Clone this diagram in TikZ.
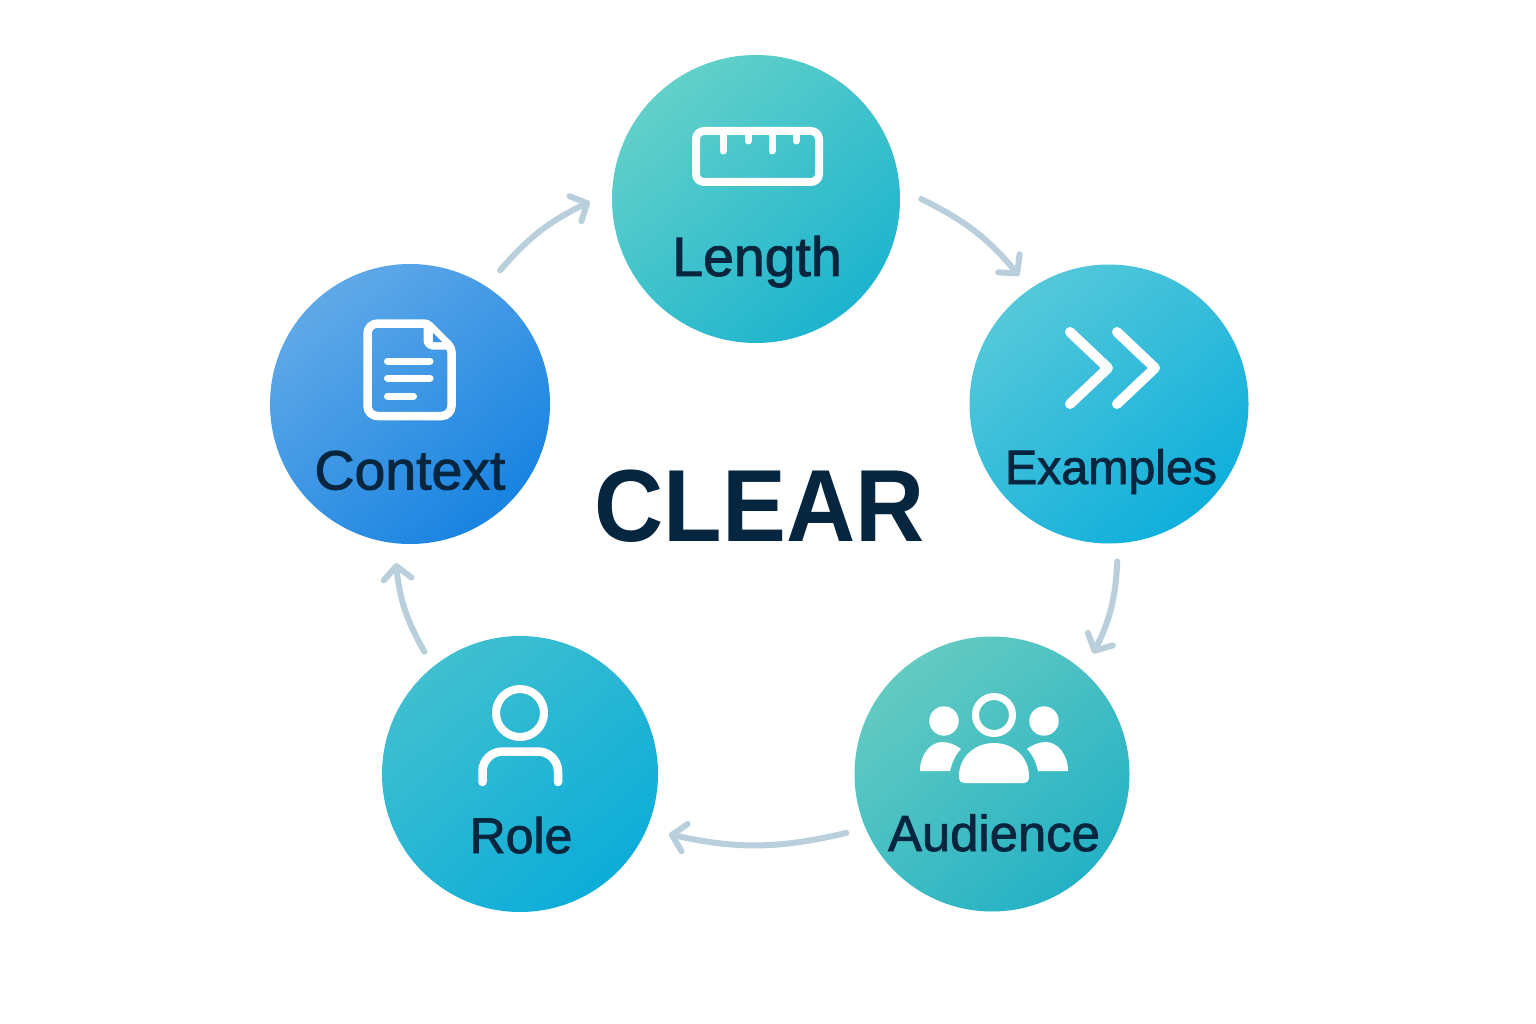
\documentclass[tikz,border=0pt]{standalone}
\usepackage{fontspec}
\setmainfont{Liberation Sans}
\newfontfamily\labfont[FakeBold=1.6]{Liberation Sans}
\newfontfamily\titlefont[FakeStretch=0.935]{Liberation Sans Bold}
\usetikzlibrary{arrows.meta,calc}
\definecolor{ink}{HTML}{06263F}
\definecolor{arrowc}{HTML}{B9D0DC}
\definecolor{lenA}{HTML}{70D6C8}\definecolor{lenB}{HTML}{0FAECF}
\definecolor{ctxA}{HTML}{6EB0E9}\definecolor{ctxB}{HTML}{0A7CE0}
\definecolor{exaA}{HTML}{62CDD9}\definecolor{exaB}{HTML}{02AADC}
\definecolor{audA}{HTML}{70CFC0}\definecolor{audB}{HTML}{18ADC6}
\definecolor{rolA}{HTML}{4AC3CE}\definecolor{rolB}{HTML}{02A9DA}
\definecolor{foldc}{HTML}{3D92E5}
\pgfdeclareverticalshading{sLen}{100bp}{color(0bp)=(lenB); color(15bp)=(lenB); color(85bp)=(lenA); color(100bp)=(lenA)}
\pgfdeclareverticalshading{sCtx}{100bp}{color(0bp)=(ctxB); color(15bp)=(ctxB); color(85bp)=(ctxA); color(100bp)=(ctxA)}
\pgfdeclareverticalshading{sExa}{100bp}{color(0bp)=(exaB); color(15bp)=(exaB); color(85bp)=(exaA); color(100bp)=(exaA)}
\pgfdeclareverticalshading{sAud}{100bp}{color(0bp)=(audB); color(15bp)=(audB); color(85bp)=(audA); color(100bp)=(audA)}
\pgfdeclareverticalshading{sRol}{100bp}{color(0bp)=(rolB); color(15bp)=(rolB); color(85bp)=(rolA); color(100bp)=(rolA)}
\tikzset{
  x=1pt,y=1pt,
  disc/.style 2 args={circle,inner sep=0pt,minimum size=#1,shading=#2,shading angle=40},
  lab/.style 2 args={anchor=base,text=ink,inner sep=0pt,font=\labfont\fontsize{#1}{#2}\selectfont},
  flow/.style={draw=arrowc,line width=6pt,line cap=round,line join=round,-{Straight Barb[length=13pt,width=28pt,round,line width=6pt]}},
  icon/.style={draw=white,line cap=round,line join=round,line width=8.5pt}
}
\begin{document}
\begin{tikzpicture}
\path[use as bounding box,fill=white] (0,0) rectangle (1536,-1024);
\node[disc={288pt}{sLen}] (len) at (756,-199) {};
\node[disc={280pt}{sCtx}] (ctx) at (410,-404) {};
\node[disc={279pt}{sExa}] (exa) at (1109,-404) {};
\node[disc={275pt}{sAud}] (aud) at (992,-774) {};
\node[disc={276pt}{sRol}] (rol) at (520,-774) {};

\node[lab={55.4}{60}] (lenT) at (757,-276) {Length};
\node[lab={55.4}{60}] (ctxT) at (410,-489.5) {Context};
\node[lab={48.3}{54}] (exaT) at (1111,-484) {Examples};
\node[lab={50.8}{56}] (audT) at (994,-851) {Audience};
\node[lab={50}{56}] (rolT) at (521,-853) {Role};
\node[anchor=base,text=ink,inner sep=0pt,font=\titlefont\fontsize{102.5}{108}\selectfont] (title) at (759.5,-541.5) {CLEAR};

\draw[flow] ($(ctx.56.1)!-21pt!(ctx)$) to[bend left=12] ($(len.181.4)!-22pt!(len)$);
\draw[flow] ($(len.0)!-21pt!(len)$) to[bend left=12] ($(exa.125.4)!-17pt!(exa)$);
\draw[flow] ($(exa.-87)!-18pt!(exa)$) to[bend left=12] ($(aud.50.7)!-19.7pt!(aud)$);
\draw[flow] ($(aud.202)!-19.5pt!(aud)$) to[bend left=13] ($(rol.-22.7)!-22.5pt!(rol)$);
\draw[flow] ($(rol.128.2)!-17pt!(rol)$) to[bend left=12] ($(ctx.265.3)!-19.5pt!(ctx)$);

\begin{scope}[yscale=-1]
  % document icon
  \draw[icon,rounded corners=10pt] (367.5,416) -- (367.5,323.5) [rounded corners=3pt] -- (427,323.5) [rounded corners=4pt] -- (451.5,348) [rounded corners=10pt] -- (451.5,416) -- cycle;
  \fill[white] (427,325) -- (450,347) -- (427,347) -- cycle;
  \draw[icon,line width=7pt,rounded corners=6pt] (427,327) -- (427,346) -- (449,346);
  \fill[foldc] (433,333) -- (442,342) -- (433,342) -- cycle;
  \draw[icon,line width=7pt] (387.5,361) -- (430,361);
  \draw[icon,line width=7pt] (387.5,378) -- (430,378);
  \draw[icon,line width=7pt] (387.5,396) -- (413.5,396);
  % ruler icon
  \draw[icon,line width=8pt,rounded corners=8pt] (696,131) rectangle (819,182);
  \draw[icon,line width=7pt] (723,134) -- (723,151);
  \draw[icon,line width=7pt] (748,134) -- (748,141);
  \draw[icon,line width=7pt] (772,134) -- (772,151);
  \draw[icon,line width=7pt] (796,134) -- (796,141);
  % chevrons
  \draw[icon,line width=10pt] (1070,332) -- (1108,368) -- (1070,404);
  \draw[icon,line width=10pt] (1117,332) -- (1155,368) -- (1117,404);
  % person
  \draw[icon,line width=8pt] (520,713) circle[radius=24];
  \draw[icon,line width=8.5pt,rounded corners=20pt] (482.5,782) -- (482.5,751.5) -- (558,751.5) -- (558,782);
  % audience
  \draw[icon,line width=7pt] (994,715) circle[radius=18.5];
  \fill[white] (944,721) circle[radius=14.7];
  \fill[white] (1044,721) circle[radius=14.7];
  \fill[white] (959,778) .. controls (958,757) and (975,743) .. (994,743) .. controls (1013,743) and (1030,757) .. (1029,778)
     .. controls (1029,781) and (1027,783) .. (1024,783) -- (964,783) .. controls (961,783) and (959,781) .. (959,778) -- cycle;
  \fill[white] (920,771) .. controls (920,754) and (931,742) .. (942,742) .. controls (949,742) and (956,745) .. (961,749)
     .. controls (955,755) and (952,763) .. (950,771) -- cycle;
  \fill[white] (1068,771) .. controls (1068,754) and (1057,742) .. (1046,742) .. controls (1039,742) and (1032,745) .. (1027,749)
     .. controls (1033,755) and (1036,763) .. (1038,771) -- cycle;
\end{scope}
\end{tikzpicture}
\end{document}
